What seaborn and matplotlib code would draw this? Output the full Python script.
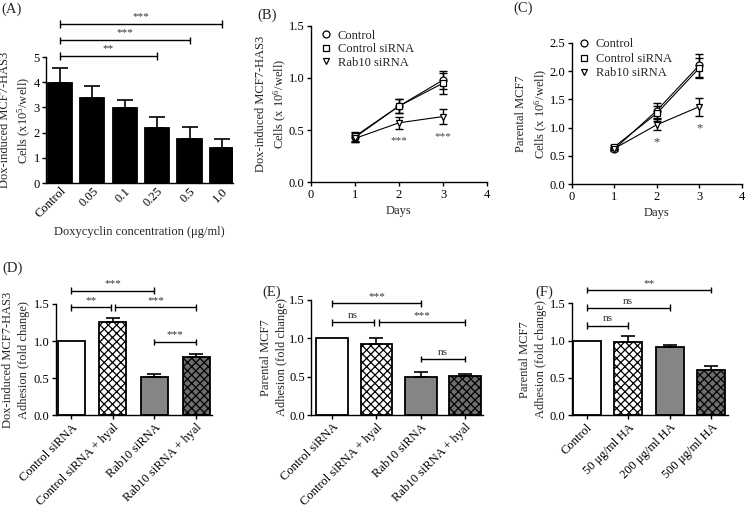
import matplotlib
matplotlib.use("Agg")
import matplotlib.pyplot as plt
import seaborn as sns
import numpy as np
from matplotlib.lines import Line2D

# ---------------- data ----------------
a_cats = ["Control", "0.05", "0.1", "0.25", "0.5", "1.0"]
a_vals = [3.97, 3.37, 2.97, 2.17, 1.73, 1.37]
a_err = [0.59, 0.46, 0.33, 0.43, 0.49, 0.36]

days = [1, 2, 3]
b_control = [0.43, 0.73, 0.98]
b_control_err = [0.04, 0.07, 0.09]
b_sirna = [0.44, 0.73, 0.95]
b_sirna_err = [0.04, 0.07, 0.10]
b_rab10 = [0.42, 0.57, 0.63]
b_rab10_err = [0.03, 0.06, 0.07]

c_control = [0.62, 1.30, 2.10]
c_control_err = [0.03, 0.13, 0.20]
c_sirna = [0.66, 1.25, 2.05]
c_sirna_err = [0.03, 0.13, 0.18]
c_rab10 = [0.63, 1.05, 1.37]
c_rab10_err = [0.03, 0.10, 0.16]

series_names = ["Control", "Control siRNA", "Rab10 siRNA"]

d_cats = ["Control siRNA", "Control siRNA + hyal", "Rab10 siRNA", "Rab10 siRNA + hyal"]
d_vals = [1.00, 1.26, 0.51, 0.79]
d_err = [0.0, 0.05, 0.04, 0.03]

e_vals = [1.00, 0.93, 0.50, 0.51]
e_err = [0.0, 0.08, 0.06, 0.02]

f_cats = ["Control", "50 \u03bcg/ml HA", "200 \u03bcg/ml HA", "500 \u03bcg/ml HA"]
f_vals = [1.00, 0.98, 0.91, 0.60]
f_err = [0.0, 0.08, 0.03, 0.06]

# brackets: (x1, x2, y, label)
a_br = [(0, 3, 5.04, "**"), (0, 4, 5.67, "***"), (0, 5, 6.31, "***")]
d_br = [(0, 2, 1.68, "***"), (0, 0.95, 1.455, "**"), (1.05, 3, 1.455, "***"), (2, 3, 0.99, "***")]
e_br = [(0, 2, 1.46, "***"), (0, 0.95, 1.21, "ns"), (1.05, 3, 1.21, "***"), (2, 3, 0.73, "ns")]
f_br = [(0, 3, 1.68, "**"), (0, 2, 1.44, "ns"), (0, 1, 1.20, "ns")]

# ---------------- style ----------------
sns.set_style("ticks")
plt.rcParams["font.family"] = ["Liberation Serif", "DejaVu Serif"]
plt.rcParams["mathtext.fontset"] = "custom"
plt.rcParams["mathtext.rm"] = "Liberation Serif"
plt.rcParams["mathtext.default"] = "regular"
plt.rcParams["font.size"] = 9
plt.rcParams["axes.linewidth"] = 1.0
plt.rcParams["xtick.major.size"] = 3
plt.rcParams["ytick.major.size"] = 3
plt.rcParams["xtick.major.width"] = 1.0
plt.rcParams["ytick.major.width"] = 1.0
plt.rcParams["hatch.linewidth"] = 0.9

W, H = 745, 509
fig = plt.figure(figsize=(W / 100, H / 100), dpi=100)


def px_axes(l, r, t, b):
    return fig.add_axes([l / W, (H - b) / H, (r - l) / W, (b - t) / H])


def style_ax(ax):
    sns.despine(ax=ax)
    ax.tick_params(labelsize=9, colors="black", pad=1.5)
    for s in ax.spines.values():
        s.set_color("black")


def set_ylab(ax, text, pad):
    ax.set_ylabel(text, fontsize=9, labelpad=pad, linespacing=1.45)


def brackets(ax, brs, cap, gap, fs=8):
    for x1, x2, y, lab in brs:
        kw = dict(color="black", lw=1.0, clip_on=False, solid_capstyle="butt")
        ax.plot([x1, x2], [y, y], **kw)
        ax.plot([x1, x1], [y - cap, y + cap], **kw)
        ax.plot([x2, x2], [y - cap, y + cap], **kw)
        ax.text((x1 + x2) / 2, y + gap, lab, ha="center", va="bottom",
                fontsize=fs, color="#333333", clip_on=False)


def bar_panel(ax, cats, vals, errs, colors, hatches, width, capsize):
    sns.barplot(x=cats, y=vals, hue=cats, palette=colors, legend=False,
                edgecolor="black", linewidth=1.3, width=width, errorbar=None,
                saturation=1, ax=ax, zorder=2)
    for p, h in zip(ax.patches, hatches):
        if h:
            p.set_hatch(h)
    xs = np.arange(len(cats))
    errs = np.asarray(errs)
    mask = errs > 0
    ax.errorbar(xs[mask], np.asarray(vals)[mask], yerr=[np.zeros(mask.sum()), errs[mask]],
                fmt="none", ecolor="black", elinewidth=1.2, capsize=capsize,
                capthick=1.2, zorder=3)
    ax.set_xticks(xs)
    ax.set_xticklabels(cats, rotation=45, ha="right", rotation_mode="anchor")


# ---------------- Panel A ----------------
axA = px_axes(46, 233, 57, 183)
bar_panel(axA, a_cats, a_vals, a_err, ["black"] * 6, [None] * 6, 0.75, 6)
axA.set_xlim(-0.43, 5.34)
axA.set_ylim(0, 5)
axA.set_yticks([0, 1, 2, 3, 4, 5])
set_ylab(axA, "Dox-induced MCF7-HAS3\nCells (x10$^5$/well)", 0)
axA.set_xlabel("Doxycyclin concentration (\u03bcg/ml)", fontsize=9, labelpad=4)
axA.tick_params(axis="x", length=0)
style_ax(axA)
brackets(axA, a_br, 0.14, 0.12)


# ---------------- Line panels ----------------
def line_panel(ax, ys, errs, ymax, yticks, anchor, lspace):
    markers = ["o", "s", "v"]
    handles = []
    for name, y, e, m in zip(series_names, ys, errs, markers):
        sns.lineplot(x=days, y=y, ax=ax, color="black", lw=0.8, marker=m,
                     markersize=5, markerfacecolor="white", markeredgecolor="black",
                     markeredgewidth=0.9, zorder=3)
        ax.errorbar(days, y, yerr=e, fmt="none", ecolor="black", elinewidth=1.0,
                    capsize=3, capthick=1.0, zorder=2)
        handles.append(Line2D([], [], ls="none", marker=m, markersize=5,
                              markerfacecolor="white", markeredgecolor="black",
                              markeredgewidth=0.9, label=name))
    ax.legend(handles=handles, loc="upper left", frameon=False, fontsize=9,
              handlelength=0.8, handletextpad=0.5, labelspacing=lspace,
              borderaxespad=0.0, borderpad=0.0, bbox_to_anchor=anchor)
    ax.set_xlim(0, 4)
    ax.set_ylim(0, ymax)
    ax.set_xticks([0, 1, 2, 3, 4])
    ax.set_yticks(yticks)
    ax.set_yticklabels([f"{t:.1f}" for t in yticks])
    ax.set_xlabel("Days", fontsize=9, labelpad=3)
    style_ax(ax)


axB = px_axes(310.7, 487.3, 25.7, 182.3)
line_panel(axB, [b_control, b_sirna, b_rab10], [b_control_err, b_sirna_err, b_rab10_err],
           1.5, [0.0, 0.5, 1.0, 1.5], (0.06, 0.975), 0.12)
set_ylab(axB, "Dox-induced MCF7-HAS3\nCells (x 10$^6$/well)", -0.5)
axB.text(2, 0.40, "***", ha="center", va="center", fontsize=8, color="#444444")
axB.text(3, 0.44, "***", ha="center", va="center", fontsize=8, color="#444444")

axC = px_axes(571.7, 741.7, 42.7, 184.3)
line_panel(axC, [c_control, c_sirna, c_rab10], [c_control_err, c_sirna_err, c_rab10_err],
           2.5, [0.0, 0.5, 1.0, 1.5, 2.0, 2.5], (0.045, 1.03), 0.2)
set_ylab(axC, "Parental MCF7\nCells (x 10$^6$/well)", 0)
axC.text(2, 0.74, "*", ha="center", va="center", fontsize=9, color="#444444")
axC.text(3, 0.99, "*", ha="center", va="center", fontsize=9, color="#444444")

# ---------------- Bar panels D, E, F ----------------
bar_colors = ["white", "white", "#858585", "#6e6e6e"]
bar_hatch = [None, "xxxx", None, "xxxx"]

axD = px_axes(55.7, 212, 304, 415.3)
bar_panel(axD, d_cats, d_vals, d_err, bar_colors, bar_hatch, 0.65, 5)
axD.set_xlim(-0.37, 3.38)
axD.set_ylim(0, 1.5)
axD.set_yticks([0, 0.5, 1.0, 1.5])
axD.set_yticklabels(["0.0", "0.5", "1.0", "1.5"])
set_ylab(axD, "Dox-induced MCF7-HAS3\nAdhesion (fold change)", 2.5)
style_ax(axD)
brackets(axD, d_br, 0.045, 0.035)

axE = px_axes(311, 483, 300, 415)
bar_panel(axE, d_cats, e_vals, e_err, bar_colors, bar_hatch, 0.72, 5)
axE.set_xlim(-0.48, 3.41)
axE.set_ylim(0, 1.5)
axE.set_yticks([0, 0.5, 1.0, 1.5])
axE.set_yticklabels(["0.0", "0.5", "1.0", "1.5"])
set_ylab(axE, "Parental MCF7\nAdhesion (fold change)", 1)
style_ax(axE)
brackets(axE, e_br, 0.045, 0.03)

axF = px_axes(571.7, 728, 303.3, 415)
bar_panel(axF, f_cats, f_vals, f_err, bar_colors, bar_hatch, 0.67, 5)
axF.set_xlim(-0.36, 3.4)
axF.set_ylim(0, 1.5)
axF.set_yticks([0, 0.5, 1.0, 1.5])
axF.set_yticklabels(["0.0", "0.5", "1.0", "1.5"])
set_ylab(axF, "Parental MCF7\nAdhesion (fold change)", 2)
style_ax(axF)
brackets(axF, f_br, 0.045, 0.03)

# ---------------- panel labels ----------------
for lab, x, y in [("(A)", 1, 9), ("(B)", 257, 15), ("(C)", 513, 8),
                  ("(D)", 2, 268), ("(E)", 262, 292), ("(F)", 535, 292)]:
    fig.text(x / W, 1 - y / H, lab, fontsize=10.5, ha="left", va="center")

fig.savefig("out.png", dpi=100)
